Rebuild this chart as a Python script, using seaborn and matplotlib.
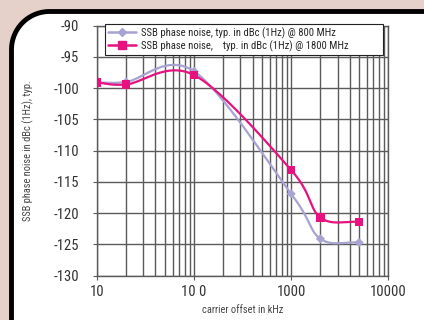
import matplotlib
matplotlib.use("Agg")
import matplotlib.pyplot as plt
import numpy as np
import pandas as pd
import seaborn as sns
from matplotlib.patches import PathPatch, Polygon
from matplotlib.path import Path
from matplotlib.lines import Line2D
from matplotlib.ticker import FixedLocator, LogLocator, NullFormatter

# data
offset_khz = [10, 20, 100, 1000, 2000, 5000]
noise_800 = [-99.1, -99.0, -97.3, -116.9, -124.1, -124.7]
noise_1800 = [-99.1, -99.4, -97.9, -113.1, -120.7, -121.4]
labels = ["SSB phase noise, typ. in dBc (1Hz) @ 800 MHz",
          "SSB phase noise,    typ. in dBc (1Hz) @ 1800 MHz"]
ytick_vals = [-90, -95, -100, -105, -110, -115, -120, -125, -130]
xtick_vals = [10, 100, 1000, 10000]
xtick_labels = ["10", "10 0", "1000", "10000"]

c800 = "#a7a3d2"
c1800 = "#e5127f"

sns.set_style("white")
plt.rcParams['font.family'] = ['Roboto Condensed', 'Archivo Narrow', 'DejaVu Sans']


def smooth(x, y, n=30):
    # catmull-rom through the points, in log-x space (like a smoothed line)
    lx = np.log10(x)
    y = np.asarray(y, float)
    P = np.column_stack([lx, y])
    P = np.vstack([2 * P[0] - P[1], P, 2 * P[-1] - P[-2]])
    out = []
    for i in range(1, len(P) - 2):
        p0, p1, p2, p3 = P[i - 1], P[i], P[i + 1], P[i + 2]
        m1 = (p2 - p0) / 2
        m2 = (p3 - p1) / 2
        t = np.linspace(0, 1, n)[:, None]
        h00 = 2 * t**3 - 3 * t**2 + 1
        h10 = t**3 - 2 * t**2 + t
        h01 = -2 * t**3 + 3 * t**2
        h11 = t**3 - t**2
        out.append(h00 * p1 + h10 * m1 + h01 * p2 + h11 * m2)
    out = np.vstack(out)
    return 10 ** out[:, 0], out[:, 1]


W, H = 424, 320
fig = plt.figure(figsize=(W / 100, H / 100), dpi=100)
fig.patch.set_facecolor("#e5d1ca")

# white panel + thick black rounded border (only left and top edges show)
r = 38
fx, fy = 11.5, H - 11.5
ang = np.linspace(np.pi, np.pi / 2, 30)
arc = np.column_stack([fx + r + r * np.cos(ang), fy - r + r * np.sin(ang)])
edge = np.vstack([[fx, 0], arc, [W, fy]]) / [W, H]
fill = np.vstack([edge, [1, fy / H], [1, 0]])
fig.add_artist(Polygon(fill, closed=True, transform=fig.transFigure,
                       facecolor="white", edgecolor="none", zorder=0))
codes = [Path.MOVETO] + [Path.LINETO] * (len(edge) - 1)
fig.add_artist(PathPatch(Path(edge, codes), transform=fig.transFigure,
                         facecolor="none", edgecolor="black", linewidth=3.5,
                         capstyle="butt", zorder=0))

ax = fig.add_axes([97 / W, 44.3 / H, 291.3 / W, 250 / H])
ax.patch.set_alpha(0)

df = pd.DataFrame({"offset": offset_khz * 2,
                   "noise": noise_800 + noise_1800,
                   "band": ["800"] * 6 + ["1800"] * 6})

for col, yy in [(c800, noise_800), (c1800, noise_1800)]:
    sx, sy = smooth(offset_khz, yy)
    sns.lineplot(x=sx, y=sy, ax=ax, color=col, linewidth=1.6, sort=False,
                 estimator=None, zorder=3)

sns.scatterplot(data=df[df.band == "800"], x="offset", y="noise", ax=ax,
                color=c800, marker="D", s=22, edgecolor="none", zorder=4)
sns.scatterplot(data=df[df.band == "1800"], x="offset", y="noise", ax=ax,
                color=c1800, marker="s", s=36, edgecolor="none", zorder=4)

ax.set_xscale("log")
ax.set_xlim(10, 10000)
ax.set_ylim(-130, -90)
ax.set_yticks(ytick_vals)
ax.set_yticklabels([str(v) for v in ytick_vals])
ax.xaxis.set_major_locator(FixedLocator(xtick_vals))
ax.set_xticklabels(xtick_labels)
ax.xaxis.set_minor_locator(LogLocator(base=10, subs=np.arange(2, 10)))
ax.xaxis.set_minor_formatter(NullFormatter())

gcol = "#5a5a5a"
ax.grid(True, which="both", axis="x", color=gcol, linewidth=1.0)
ax.grid(True, which="major", axis="y", color=gcol, linewidth=1.0)
for s in ax.spines.values():
    s.set_color(gcol)
    s.set_linewidth(1.0)
ax.tick_params(axis="y", which="major", length=3, pad=10, labelsize=10.5,
               colors=gcol, labelcolor="#333333", left=True)
ax.tick_params(axis="x", which="major", length=3, pad=4, labelsize=10.5,
               colors=gcol, labelcolor="#333333", bottom=True)
ax.tick_params(axis="x", which="minor", length=0)

ax.set_xlabel("carrier offset in kHz", fontsize=7.5, color="#444444", labelpad=4)
ax.set_ylabel("SSB phase noise in dBc (1Hz), typ.", fontsize=7.5,
              color="#444444", labelpad=14)

handles = [Line2D([], [], color=c800, marker="D", markersize=4.5, linewidth=1.8),
           Line2D([], [], color=c1800, marker="s", markersize=5.5, linewidth=1.8)]
leg = ax.legend(handles, labels, loc="lower left",
                bbox_to_anchor=(0.027, 0.883, 0.955, 0.1), mode="expand",
                fontsize=7.7, frameon=True, fancybox=False, framealpha=1,
                edgecolor="#222222", handlelength=2.6, borderpad=0.3,
                labelspacing=0.15, handletextpad=0.5, borderaxespad=0)
leg.get_frame().set_linewidth(0.8)
leg.set_zorder(5)

fig.savefig("out.png", dpi=100, facecolor=fig.get_facecolor())
